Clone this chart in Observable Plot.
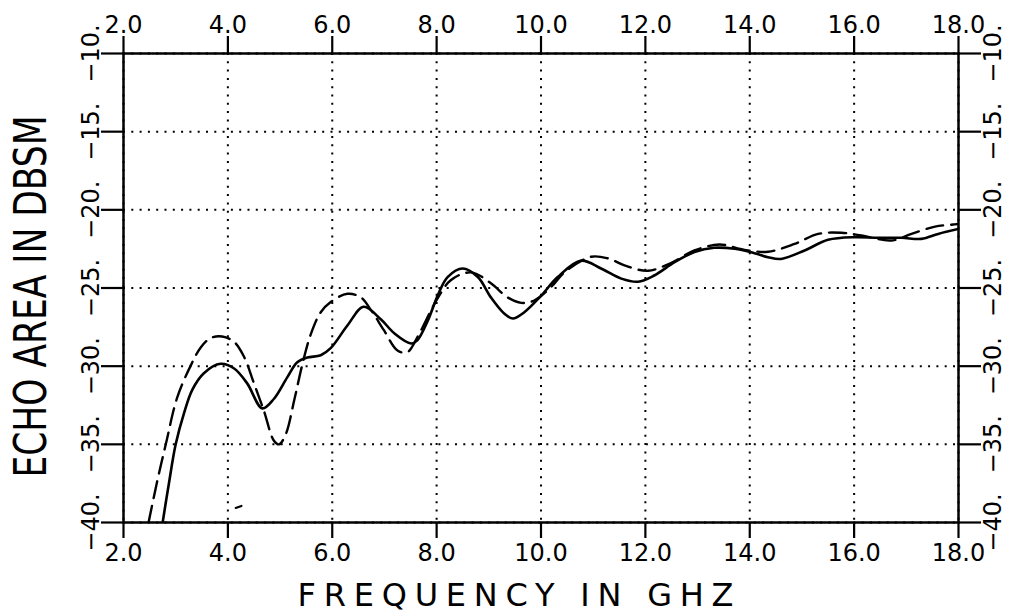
<!DOCTYPE html>
<html>
<head>
<meta charset="utf-8">
<script src="https://cdn.jsdelivr.net/npm/d3@7"></script>
<script src="https://cdn.jsdelivr.net/npm/@observablehq/plot@0.6"></script>
<style>
  html, body { margin: 0; padding: 0; background: #fff; }
  #chart { width: 1013px; height: 614px; }
</style>
</head>
<body>
<div id="chart"></div>
<script>
// ---- data ----
const xTicks = [2, 4, 6, 8, 10, 12, 14, 16, 18];
const yTicks = [-40, -35, -30, -25, -20, -15, -10];
const xTitle = "FREQUENCY IN GHZ";
const yTitle = "ECHO AREA IN DBSM";

// solid curve
const solidFreq = [2.75, 2.87, 3.0, 3.16, 3.32, 3.54, 3.86, 4.12, 4.37, 4.66, 4.88, 5.14, 5.33, 5.52, 5.78, 5.97, 6.29, 6.6, 6.93, 7.19, 7.51, 7.63, 7.83, 8.03, 8.21, 8.5, 8.79, 9.04, 9.3, 9.46, 9.68, 10.0, 10.32, 10.77, 11.15, 11.54, 11.86, 12.17, 12.56, 12.94, 13.32, 13.71, 14.03, 14.35, 14.6, 15.05, 15.5, 16.01, 16.46, 16.91, 17.29, 17.61, 18.0];
const solidEcho = [-40, -37.5, -35.0, -33.0, -31.5, -30.45, -29.85, -30.15, -31.1, -32.7, -32.1, -30.7, -29.75, -29.45, -29.3, -28.85, -27.4, -26.2, -27.0, -27.9, -28.55, -28.35, -27.1, -25.4, -24.3, -23.75, -24.3, -25.6, -26.65, -26.95, -26.55, -25.5, -24.3, -23.25, -23.75, -24.4, -24.6, -24.2, -23.35, -22.7, -22.43, -22.49, -22.71, -23.03, -23.14, -22.6, -21.92, -21.75, -21.79, -21.79, -21.86, -21.54, -21.22];

// dashed curve
const dashedFreq = [2.48, 2.65, 2.81, 3.03, 3.29, 3.48, 3.67, 3.89, 4.12, 4.31, 4.5, 4.69, 4.88, 4.98, 5.11, 5.27, 5.43, 5.59, 5.78, 5.97, 6.29, 6.55, 6.74, 6.99, 7.25, 7.44, 7.63, 7.89, 8.03, 8.27, 8.66, 9.04, 9.36, 9.62, 9.87, 10.19, 10.45, 10.96, 11.28, 11.6, 12.05, 12.49, 12.94, 13.42, 13.9, 14.35, 14.86, 15.31, 15.76, 16.14, 16.71, 17.1, 17.55, 17.9, 18.0];
const dashedEcho = [-40, -37.3, -35.0, -32.0, -29.95, -28.8, -28.2, -28.1, -28.45, -29.4, -31.1, -32.85, -34.75, -35.0, -34.35, -32.2, -29.85, -27.95, -26.55, -25.9, -25.37, -25.6, -26.4, -27.7, -29.0, -29.1, -28.15, -26.45, -25.6, -24.5, -24.0, -24.7, -25.6, -25.95, -25.8, -24.95, -24.0, -23.0, -23.1, -23.55, -23.9, -23.4, -22.6, -22.22, -22.56, -22.68, -22.18, -21.54, -21.47, -21.64, -21.96, -21.54, -21.07, -20.94, -20.9];

// small stray pen stroke near 4.2 GHz
const strayFreq = [4.15, 4.26];
const strayEcho = [-39.07, -38.94];

// ---- build tables ----
const solid = solidFreq.map((f, i) => ({f, v: solidEcho[i]}));
const dashed = dashedFreq.map((f, i) => ({f, v: dashedEcho[i]}));
const stray = strayFreq.map((f, i) => ({f, v: strayEcho[i]}));

const yFmt = d => (d < 0 ? "\u2212" : "") + Math.abs(d) + ".";
const xFmt = d => d.toFixed(1);
const font = "DejaVu Sans";

const svg = Plot.plot({
  width: 1013,
  height: 614,
  marginLeft: 123,
  marginRight: 55,
  marginTop: 53,
  marginBottom: 92,
  style: {fontFamily: font, background: "white", color: "black"},
  x: {domain: [2, 18], axis: null},
  y: {domain: [-40, -10], axis: null},
  marks: [
    Plot.gridX(xTicks, {stroke: "black", strokeOpacity: 1, strokeWidth: 2, strokeDasharray: "2,6.3"}),
    Plot.gridY(yTicks, {stroke: "black", strokeOpacity: 1, strokeWidth: 2, strokeDasharray: "2,6.3"}),
    Plot.line(solid, {x: "f", y: "v", stroke: "black", strokeWidth: 2.6, curve: "catmull-rom", clip: true}),
    Plot.line(dashed, {x: "f", y: "v", stroke: "black", strokeWidth: 2.4, strokeDasharray: "17,8", curve: "catmull-rom", clip: true}),
    Plot.line(stray, {x: "f", y: "v", stroke: "black", strokeWidth: 2.2}),
    Plot.frame({stroke: "black", strokeWidth: 2.5}),
    Plot.axisX(xTicks, {anchor: "top", tickSize: 18, tickPadding: 3, tickFormat: xFmt, fontSize: 24, strokeWidth: 2.2, label: null}),
    Plot.axisX(xTicks, {anchor: "bottom", tickSize: 16, tickPadding: 5, tickFormat: xFmt, fontSize: 24, strokeWidth: 2.2, label: null}),
    Plot.axisY(yTicks, {anchor: "left", tickSize: 22, tickPadding: 3, tickRotate: -90, lineAnchor: "bottom", tickFormat: yFmt, fontSize: 24, strokeWidth: 2.2, label: null}),
    Plot.axisY(yTicks, {anchor: "right", tickSize: 22, tickPadding: 3, tickRotate: -90, lineAnchor: "top", tickFormat: yFmt, fontSize: 24, strokeWidth: 2.2, label: null}),
    Plot.text([xTitle], {frameAnchor: "bottom-left", textAnchor: "start", lineAnchor: "bottom", dx: 174, dy: 83, fontSize: 32, fill: "black"}),
    Plot.text([yTitle], {frameAnchor: "bottom-left", textAnchor: "start", lineAnchor: "bottom", rotate: -90, dx: -78, dy: -45, fontSize: 44, fill: "black"})
  ]
});

// stretch / condense the axis titles to the reference's lettering
d3.select(svg).selectAll("text").each(function() {
  if (this.textContent === xTitle) {
    d3.select(this).attr("textLength", 436).attr("lengthAdjust", "spacing");
  } else if (this.textContent === yTitle) {
    d3.select(this).attr("textLength", 362).attr("lengthAdjust", "spacingAndGlyphs");
  }
});

document.getElementById("chart").appendChild(svg);
</script>
</body>
</html>
